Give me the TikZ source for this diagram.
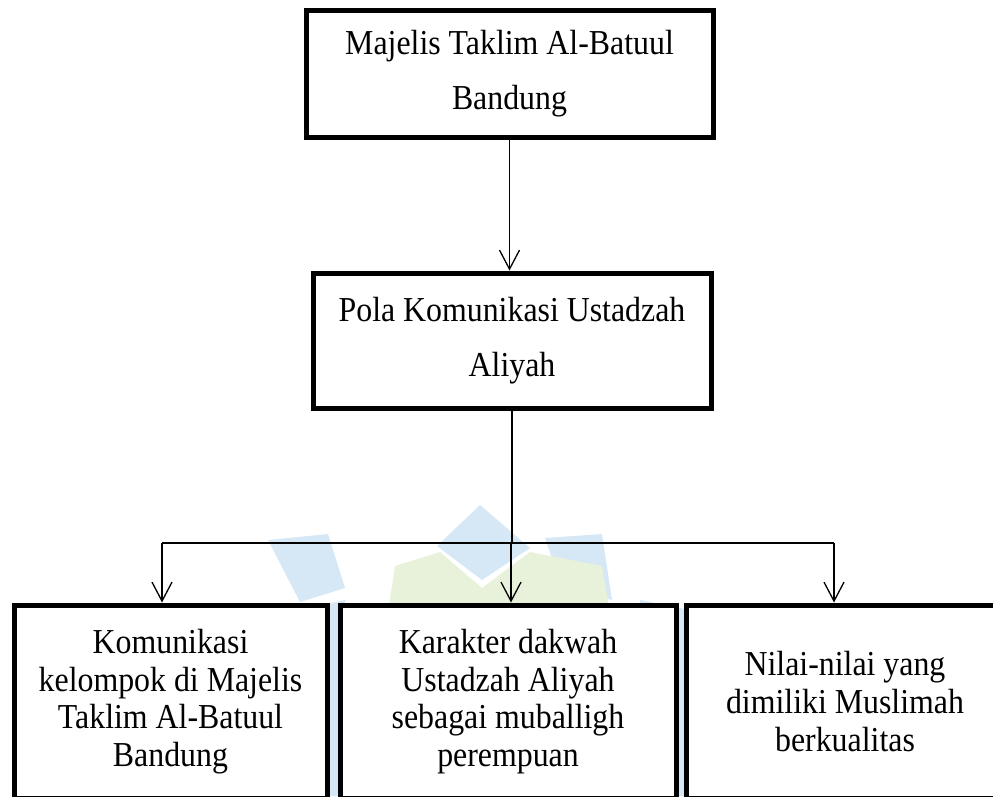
\documentclass[tikz,border=0pt]{standalone}
\usepackage{fontspec}
\setmainfont{Liberation Serif}[FakeStretch=0.91]
\usetikzlibrary{arrows.meta}

\definecolor{wmbiru}{RGB}{214,232,246}
\definecolor{wmhijau}{RGB}{232,242,219}

\tikzset{
	kotak/.style = {draw, line width=5pt, fill=white, align=center, inner sep=0pt},
	teksatas/.style = {font=\fontsize{35}{55}\selectfont},
	teksbawah/.style = {font=\fontsize{35}{37.7}\selectfont},
	panah/.style = {line width=1.3pt, -{Straight Barb[length=19pt, width=20pt, line width=1.3pt]}},
	garis/.style = {line width=1.3pt}
}

\begin{document}
\begin{tikzpicture}[x=1pt, y=-1pt]
	\useasboundingbox (0,0) rectangle (993,796);
	\clip (0,0) rectangle (993,796);
	% logo samar di belakang
	\fill[wmbiru] (268,540) -- (328,534) -- (345,588) -- (300,602) -- cycle;
	\fill[wmbiru] (437,546) -- (480,505) -- (530,548) -- (482,580) -- cycle;
	\fill[wmbiru] (545,538) -- (602,534) -- (612,600) -- (562,588) -- cycle;
	\fill[wmhijau] (395,566) -- (440,552) -- (482,588) -- (530,552) -- (602,566) -- (640,796) -- (360,796) -- cycle;
	\fill[wmbiru] (300,610) -- (345,600) -- (345,796) -- (310,796) -- cycle;
	\fill[wmbiru] (640,600) -- (690,610) -- (690,796) -- (650,796) -- cycle;
	% kotak
	\node[kotak, teksatas, minimum width=407pt, minimum height=127pt] (majelis) at (509.5,73.5)
		{Majelis Taklim Al-Batuul\\Bandung};
	\node[kotak, teksatas, minimum width=398pt, minimum height=135pt] (pola) at (512,340.5)
		{Pola Komunikasi Ustadzah\\Aliyah};
	\node[kotak, teksbawah, minimum width=313pt, minimum height=193pt] (komunikasi) at (170.5,701.5)
		{Komunikasi\\kelompok di Majelis\\Taklim Al-Batuul\\Bandung};
	\node[kotak, teksbawah, minimum width=336pt, minimum height=193pt] (karakter) at (508,701.5)
		{Karakter dakwah\\Ustadzah Aliyah\\sebagai muballigh\\perempuan};
	\node[kotak, teksbawah, minimum width=318pt, minimum height=193pt] (nilai) at (845,701.5)
		{Nilai-nilai yang\\dimiliki Muslimah\\berkualitas};
	% cabang
	\coordinate (cabang) at (512,543);
	\coordinate (kiri) at (162,543);
	\coordinate (tengah) at (511,543);
	\coordinate (kanan) at (834,543);
	% garis
	\draw[panah] (majelis.south) -- (majelis.south |- pola.north);
	\draw[garis] (pola.south) -- (cabang);
	\draw[garis] (kiri) -- (kanan);
	\draw[panah] (kiri) -- (kiri |- komunikasi.north);
	\draw[panah] (tengah) -- (tengah |- karakter.north);
	\draw[panah] (kanan) -- (kanan |- nilai.north);
\end{tikzpicture}
\end{document}
